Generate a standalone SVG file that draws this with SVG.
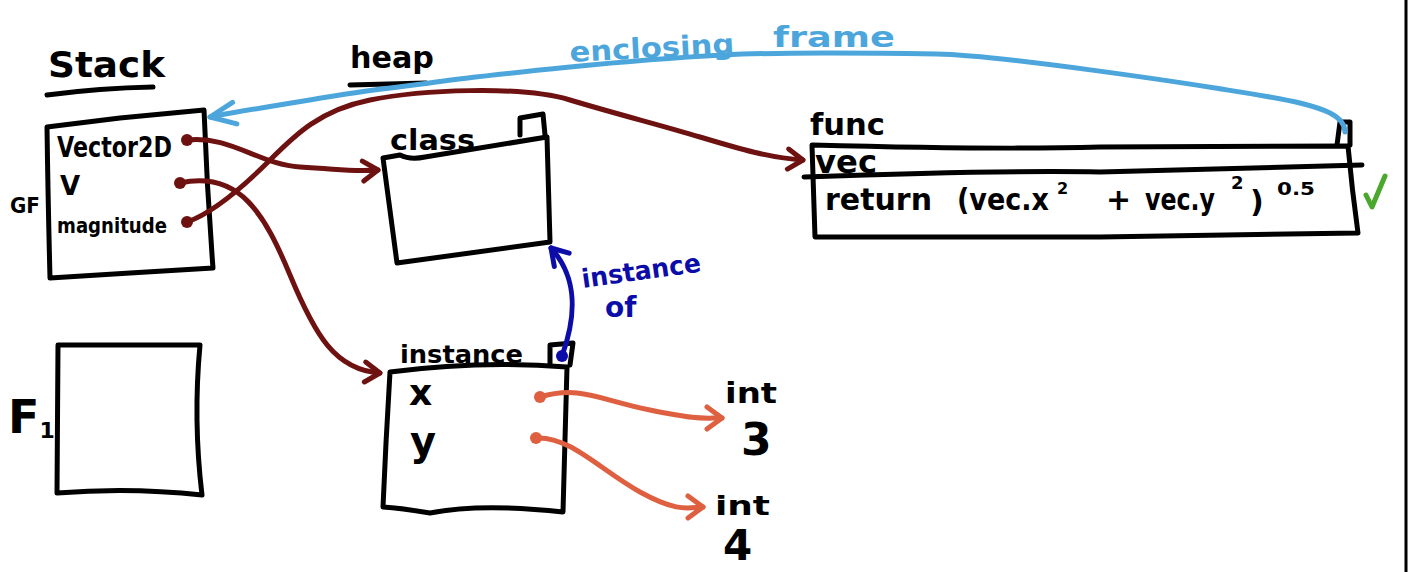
<svg xmlns="http://www.w3.org/2000/svg" width="1408" height="572" viewBox="0 0 1408 572">
<style>
.bx{fill:none;stroke:#000;stroke-width:5;stroke-linejoin:round;stroke-linecap:round}
.t{font-family:"DejaVu Sans","Liberation Sans",sans-serif;font-weight:bold;fill:#000}
.red{fill:none;stroke:#6e1111;stroke-width:5;stroke-linecap:round}
.org{fill:none;stroke:#de6040;stroke-width:5;stroke-linecap:round}
.blu{fill:none;stroke:#4da6db;stroke-width:5;stroke-linecap:round}
.dbl{fill:none;stroke:#0c0ca8;stroke-width:5;stroke-linecap:round}
</style>
<defs>
<marker id="mRed" markerUnits="userSpaceOnUse" viewBox="-20 -14 24 28" refX="0" refY="0" markerWidth="24" markerHeight="28" orient="auto"><path d="M-15,-10 L0,0 L-15,10" fill="none" stroke="#6e1111" stroke-width="5" stroke-linecap="round" stroke-linejoin="round"/></marker>
<marker id="mOrg" markerUnits="userSpaceOnUse" viewBox="-20 -14 24 28" refX="0" refY="0" markerWidth="24" markerHeight="28" orient="auto"><path d="M-15,-11 L0,0 L-15,11" fill="none" stroke="#de6040" stroke-width="5" stroke-linecap="round" stroke-linejoin="round"/></marker>
<marker id="mBlu" markerUnits="userSpaceOnUse" viewBox="-30 -16 34 32" refX="0" refY="0" markerWidth="34" markerHeight="32" orient="auto"><path d="M-25,-12 L0,0 L-25,10" fill="none" stroke="#4da6db" stroke-width="5" stroke-linecap="round" stroke-linejoin="round"/></marker>
<marker id="mDbl" markerUnits="userSpaceOnUse" viewBox="-20 -14 24 28" refX="0" refY="0" markerWidth="24" markerHeight="28" orient="auto"><path d="M-16,-10 L0,0 L-16,10" fill="none" stroke="#0c0ca8" stroke-width="5" stroke-linecap="round" stroke-linejoin="round"/></marker>
</defs>
<rect width="1408" height="572" fill="#fff"/>
<line x1="1406" y1="0" x2="1406" y2="572" stroke="#000" stroke-width="3"/>

<g id="labels">
<text class="t" x="48" y="77" font-size="36" textLength="117" lengthAdjust="spacingAndGlyphs">Stack</text>
<path class="bx" d="M47,95 Q100,88 153,87"/>
<text class="t" x="350" y="68" font-size="30" textLength="84" lengthAdjust="spacingAndGlyphs">heap</text>
<path class="bx" d="M350,85 L426,83"/>
</g>

<g id="stack-frame">
<path class="bx" d="M47,127 L120,118 L204,110 Q207,190 213,268 L130,273 L50,278 Q48,200 47,127 Z"/>
<text class="t" x="57" y="157" font-size="28" textLength="115" lengthAdjust="spacingAndGlyphs">Vector2D</text>
<text class="t" x="60" y="195" font-size="26">V</text>
<text class="t" x="57" y="233" font-size="22" textLength="110" lengthAdjust="spacingAndGlyphs">magnitude</text>
<text class="t" x="10" y="213" font-size="22" textLength="30" lengthAdjust="spacingAndGlyphs">GF</text>
</g>

<g id="f1-frame">
<path class="bx" d="M58,345 L200,345 Q193,420 202,495 Q130,487 57,493 L58,345 Z"/>
<text class="t" x="8" y="433" font-size="46">F<tspan font-size="22" dy="5">1</tspan></text>
</g>

<g id="class-obj">
<path class="bx" d="M383,158 L400,155 Q410,160 425,157 L547,137 L550,242 L397,263 L393,233 L383,158 Z"/>
<path class="bx" d="M520,135 L520,118 L543,114 L545,135"/>
<text class="t" x="390" y="150" font-size="28" textLength="85" lengthAdjust="spacingAndGlyphs">class</text>
</g>

<g id="instance-obj">
<path class="bx" d="M390,372 Q480,360 567,367 L563,512 Q480,503 430,513 Q400,508 383,507 L386,443 Z"/>
<path class="bx" d="M550,365 L550,345 L573,343 L570,365"/>
<text class="t" x="400" y="363" font-size="24" textLength="123" lengthAdjust="spacingAndGlyphs">instance</text>
<text class="t" x="409" y="405" font-size="36">x</text>
<text class="t" x="410" y="455" font-size="40">y</text>
</g>

<g id="func-obj">
<path class="bx" d="M812,145 Q1000,150 1100,147 L1348,146 Q1352,190 1358,233 L1100,237 L815,237 Z"/>
<path class="bx" d="M804,177 Q1000,170 1100,172 L1362,165"/>
<path class="bx" d="M1337,145 L1340,122 L1350,122 L1350,145"/>
<text class="t" x="810" y="135" font-size="30" textLength="75" lengthAdjust="spacingAndGlyphs">func</text>
<text class="t" x="815" y="173" font-size="32" textLength="62" lengthAdjust="spacingAndGlyphs">vec</text>
<text class="t" x="825" y="210" font-size="30" textLength="107" lengthAdjust="spacingAndGlyphs">return</text>
<text class="t" x="957" y="210" font-size="30" textLength="92" lengthAdjust="spacingAndGlyphs">(vec.x</text>
<text class="t" x="1057" y="194" font-size="16">2</text>
<text class="t" x="1106" y="210" font-size="30">+</text>
<text class="t" x="1145" y="210" font-size="30" textLength="70" lengthAdjust="spacingAndGlyphs">vec.y</text>
<text class="t" x="1231" y="189" font-size="18">2</text>
<text class="t" x="1250" y="212" font-size="30">)</text>
<text class="t" x="1277" y="195" font-size="18" textLength="38" lengthAdjust="spacingAndGlyphs">0.5</text>
<path d="M1366,195 L1372,207 L1385,176" fill="none" stroke="#4aa82c" stroke-width="5" stroke-linecap="round" stroke-linejoin="round"/>
</g>

<g id="int3">
<text class="t" x="725" y="403" font-size="28" textLength="52" lengthAdjust="spacingAndGlyphs">int</text>
<text class="t" x="741" y="455" font-size="44">3</text>
</g>
<g id="int4">
<text class="t" x="715" y="515" font-size="26" textLength="55" lengthAdjust="spacingAndGlyphs">int</text>
<text class="t" x="723" y="560" font-size="42">4</text>
</g>

<g id="connectors">
<circle cx="187" cy="140" r="6" fill="#6e1111"/>
<circle cx="180" cy="183" r="6" fill="#6e1111"/>
<circle cx="187" cy="222" r="6" fill="#6e1111"/>
<path class="red" marker-end="url(#mRed)" d="M187,140 C230,135 260,165 300,167 S350,172 378,170"/>
<path class="red" marker-end="url(#mRed)" d="M180,183 C240,170 265,215 290,275 S335,370 380,373"/>
<path class="red" marker-end="url(#mRed)" d="M187,222 C215,212 245,185 270,160 S320,110 370,100 S520,85 570,100 S660,125 700,137 S770,158 803,160"/>
<path class="blu" marker-end="url(#mBlu)" d="M1345,132 C1345,115 1320,108 1300,103 S1240,92 1215,88 S1000,55 937,54 S780,52 723,55 S620,62 570,67 S470,77 436,82 S370,90 340,95 S240,111 210,117"/>
<circle cx="562" cy="356" r="6" fill="#0c0ca8"/>
<path class="dbl" marker-end="url(#mDbl)" d="M562,356 C575,320 580,280 551,248"/>
<circle cx="540" cy="397" r="6" fill="#de6040"/>
<circle cx="536" cy="438" r="6" fill="#de6040"/>
<path class="org" marker-end="url(#mOrg)" d="M540,397 C580,385 600,400 650,410 S700,418 722,418"/>
<path class="org" marker-end="url(#mOrg)" d="M536,438 C570,436 600,470 640,492 S690,507 703,507"/>
</g>

<g id="connector-labels">
<text class="t" x="570" y="62" font-size="28" style="fill:#4da6db" textLength="165" lengthAdjust="spacingAndGlyphs" transform="rotate(-3 570 62)">enclosing</text>
<text class="t" x="773" y="47" font-size="28" style="fill:#4da6db" textLength="122" lengthAdjust="spacingAndGlyphs">frame</text>
<text class="t" x="583" y="288" font-size="26" style="fill:#0c0ca8" textLength="120" lengthAdjust="spacingAndGlyphs" transform="rotate(-8 583 288)">instance</text>
<text class="t" x="605" y="317" font-size="28" style="fill:#0c0ca8">of</text>
</g>
</svg>
